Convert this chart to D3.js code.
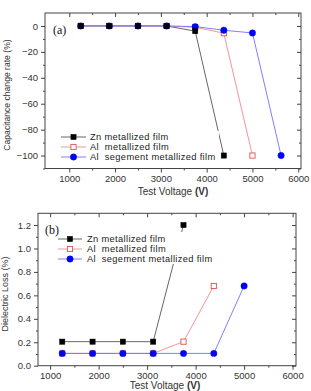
<!DOCTYPE html>
<html><head><meta charset="utf-8">
<script src="https://cdn.jsdelivr.net/npm/d3@7"></script>
<style>body{margin:0;background:#fff}svg{display:block}</style>
</head><body>
<script>
// ---- data ----
const seriesNames = ["Zn metallized film", "Al  metallized film", "Al  segement metallized film"];
const capZnX = [1250, 1875, 2500, 3125, 3750, 4375];
const capZnY = [0, 0, 0, 0, -4, -100];
const capAlX = [1250, 1875, 2500, 3125, 3750, 4375, 5000];
const capAlY = [0, 0, 0, 0, -1, -5.6, -100];
const capSegX = [1250, 1875, 2500, 3125, 3750, 4375, 5000, 5625];
const capSegY = [0, 0, 0, 0, -0.5, -3.3, -5.4, -100];
const lossZnX = [1250, 1875, 2500, 3125, 3750];
const lossZnY = [0.205, 0.205, 0.205, 0.205, 1.2];
const lossAlX = [1250, 1875, 2500, 3125, 3750, 4375];
const lossAlY = [0.105, 0.105, 0.105, 0.105, 0.205, 0.68];
const lossSegX = [1250, 1875, 2500, 3125, 3750, 4375, 5000];
const lossSegY = [0.105, 0.105, 0.105, 0.105, 0.105, 0.105, 0.68];
const xTicks = [1000, 2000, 3000, 4000, 5000, 6000];
const capTicks = [0, -20, -40, -60, -80, -100];
const lossTicks = [0.0, 0.2, 0.4, 0.6, 0.8, 1.0, 1.2];

const W = 311, H = 391;
const svg = d3.select("body").append("svg").attr("width", W).attr("height", H)
  .style("font-family", "Arial, 'Liberation Sans', sans-serif");

const styles = [
  {line: "#555", fill: "#000", stroke: "#000", shape: "square"},
  {line: "#f08a8a", fill: "#fff", stroke: "#e05050", shape: "square"},
  {line: "#7070ff", fill: "#0000ff", stroke: "#0000ff", shape: "circle"}
];

function drawMarker(g, shape, cx, cy, st) {
  if (shape === "square") {
    g.append("rect").attr("x", cx - 2.6).attr("y", cy - 2.6).attr("width", 5.2).attr("height", 5.2)
      .attr("fill", st.fill).attr("stroke", st.stroke).attr("stroke-width", st.fill === "#fff" ? 0.9 : 0.5);
  } else {
    g.append("circle").attr("cx", cx).attr("cy", cy).attr("r", 3.2).attr("fill", st.fill).attr("stroke", st.stroke).attr("stroke-width", 0.4);
  }
}

function addAxis(parent, axis, tf) {
  const a = parent.append("g").attr("transform", tf).call(axis);
  a.select(".domain").remove();
  return a;
}

function panel(o) {
  const x = d3.scaleLinear().domain(o.xDom).range([o.left, o.right]);
  const y = d3.scaleLinear().domain(o.yDom).range([o.bottom, o.top]);
  const g = svg.append("g");
  const minorX = d3.range(1500, 6000, 1000);
  const ax = g.append("g").attr("color", "#444");
  // bottom (outward) with labels
  addAxis(ax, d3.axisBottom(x).tickValues(xTicks).tickSize(4).tickFormat(d3.format("d")), `translate(0,${o.bottom})`);
  addAxis(ax, d3.axisBottom(x).tickValues(minorX).tickSize(2).tickFormat(""), `translate(0,${o.bottom})`);
  // top (inward)
  addAxis(ax, d3.axisBottom(x).tickValues(xTicks).tickSize(4).tickFormat(""), `translate(0,${o.top})`);
  addAxis(ax, d3.axisBottom(x).tickValues(minorX).tickSize(2).tickFormat(""), `translate(0,${o.top})`);
  // left (outward) with labels
  addAxis(ax, d3.axisLeft(y).tickValues(o.yTicks).tickSize(4).tickFormat(o.yFmt), `translate(${o.left},0)`);
  addAxis(ax, d3.axisLeft(y).tickValues(o.yMinor).tickSize(2).tickFormat(""), `translate(${o.left},0)`);
  // right (inward)
  addAxis(ax, d3.axisLeft(y).tickValues(o.yTicks).tickSize(4).tickFormat(""), `translate(${o.right},0)`);
  addAxis(ax, d3.axisLeft(y).tickValues(o.yMinor).tickSize(2).tickFormat(""), `translate(${o.right},0)`);
  ax.selectAll("text").attr("font-size", 9.5).attr("fill", "#333").attr("font-family", "Arial, 'Liberation Sans', sans-serif");
  ax.selectAll("line").attr("stroke", "#444");
  g.append("rect").attr("x", o.left).attr("y", o.top).attr("width", o.right - o.left).attr("height", o.bottom - o.top)
    .attr("fill", "none").attr("stroke", "#444").attr("stroke-width", 1);

  const sg = g.append("g");
  o.series.forEach((s, i) => {
    const pts = s.xs.map((v, k) => [x(v), y(s.ys[k])]);
    sg.append("path").attr("d", d3.line()(pts)).attr("fill", "none").attr("stroke", styles[i].line).attr("stroke-width", 0.9);
  });
  const lg = g.append("g");
  lg.append("rect").attr("x", o.leg.x).attr("y", o.leg.y).attr("width", o.leg.w).attr("height", o.leg.h).attr("fill", "#fff");
  [1, 2, 0].forEach(i => {
    const s = o.series[i];
    s.xs.forEach((v, k) => drawMarker(sg, styles[i].shape, x(v), y(s.ys[k]), styles[i]));
  });
  seriesNames.forEach((n, i) => {
    const ly = o.leg.ly0 + i * 10;
    lg.append("line").attr("x1", o.leg.lx1).attr("x2", o.leg.lx2).attr("y1", ly).attr("y2", ly).attr("stroke", styles[i].line).attr("stroke-width", 0.9);
    drawMarker(lg, styles[i].shape, (o.leg.lx1 + o.leg.lx2) / 2, ly, styles[i]);
    lg.append("text").attr("x", o.leg.tx).attr("y", ly + 3.3).attr("font-size", 9.3).attr("fill", "#222")
      .attr("letter-spacing", 0.35).style("white-space", "pre").text(n);
  });
  g.append("text").attr("x", o.lab.x).attr("y", o.lab.y).attr("font-family", "'Liberation Serif', 'DejaVu Serif', serif")
    .attr("font-size", 12).attr("fill", "#111").text(o.lab.t);
  g.append("text").attr("transform", `translate(${o.yl.x},${o.yl.y}) rotate(-90)`).attr("text-anchor", "middle")
    .attr("font-size", o.yl.fs).attr("fill", "#333").text(o.yl.t);
  const xt = g.append("text").attr("x", o.xl.x).attr("y", o.xl.y).attr("text-anchor", "middle").attr("font-size", 10).attr("fill", "#333");
  xt.append("tspan").text("Test Voltage ");
  xt.append("tspan").attr("font-weight", "bold").text("(V)");
}

panel({
  xDom: [470, 6060], yDom: [-110, 10], left: 45, right: 301, top: 13, bottom: 168.5,
  yTicks: capTicks, yMinor: d3.range(-110, 10, 20), yFmt: d3.format("d"),
  series: [{xs: capZnX, ys: capZnY}, {xs: capAlX, ys: capAlY}, {xs: capSegX, ys: capSegY}],
  leg: {x: 57, y: 131, w: 162, h: 31, ly0: 137, lx1: 61, lx2: 86, tx: 90},
  lab: {x: 53, y: 34, t: "(a)"},
  yl: {x: 10, y: 95, t: "Capacitance change rate (%)", fs: 8.6},
  xl: {x: 173, y: 195}
});

panel({
  xDom: [750, 6070], yDom: [0, 1.3], left: 38, right: 296, top: 213.3, bottom: 365.7,
  yTicks: lossTicks, yMinor: d3.range(0.1, 1.3, 0.2), yFmt: d3.format(".1f"),
  series: [{xs: lossZnX, ys: lossZnY}, {xs: lossAlX, ys: lossAlY}, {xs: lossSegX, ys: lossSegY}],
  leg: {x: 55, y: 232, w: 165, h: 32, ly0: 239, lx1: 58, lx2: 82, tx: 87},
  lab: {x: 45, y: 234, t: "(b)"},
  yl: {x: 8, y: 294, t: "Dielectric Loss (%)", fs: 9},
  xl: {x: 165, y: 389}
});
</script>
</body></html>
